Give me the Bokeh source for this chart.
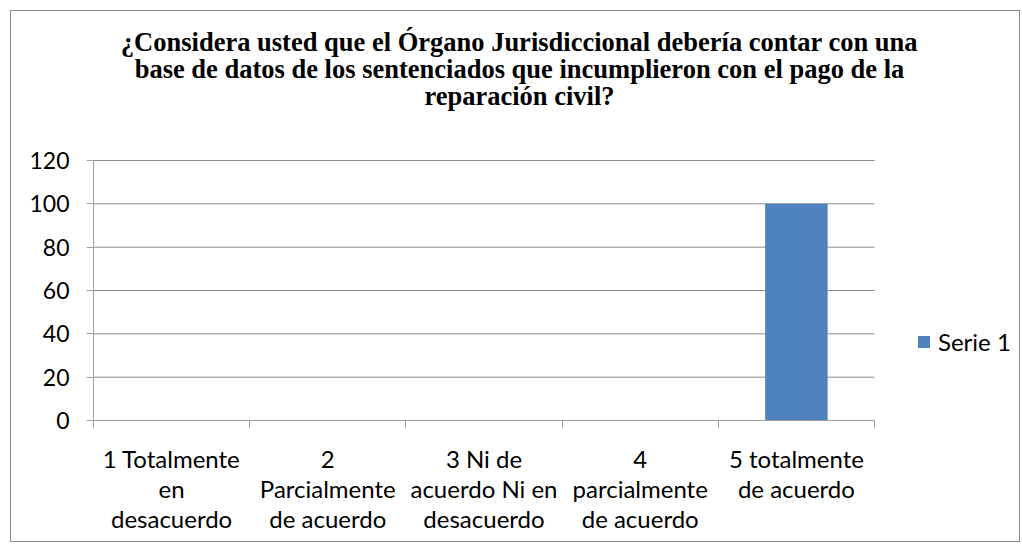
from bokeh.plotting import figure
from bokeh.models import (FixedTicker, Label, Legend, LegendItem, Range1d)
from bokeh.embed import file_html
from bokeh.resources import INLINE

# ---- data ----
categories = [
    "1 Totalmente\nen\ndesacuerdo",
    "2\nParcialmente\nde acuerdo",
    "3 Ni de\nacuerdo Ni en\ndesacuerdo",
    "4\nparcialmente\nde acuerdo",
    "5 totalmente\nde acuerdo",
]
values = [0, 0, 0, 0, 100]
series_name = "Serie 1"
y_ticks = [0, 20, 40, 60, 80, 100, 120]
title_lines = [
    "¿Considera usted que el Órgano Jurisdiccional debería contar con una",
    "base de datos de los sentenciados que incumplieron con el pago de la",
    "reparación civil?",
]

LABEL_FONT = "Lato"
GRID = "#8c8c8c"
AXIS = "#a0a0a0"
BAR = "#4f81bd"

n = len(categories)
centers = [i + 0.5 for i in range(n)]
bounds = list(range(n + 1))
y_max = y_ticks[-1]

# frame spans the title/legend area too; axes/grid are bounded to the data region
W, H = 1010, 532
LEFT, BOTTOM = 82, 123
px_x = 781 / n          # pixels per category
px_y = 260 / y_max      # pixels per unit
x_end = (W - LEFT) / px_x
y_end = (H - BOTTOM) / px_y

p = figure(width=W, height=H, output_backend="svg", toolbar_location=None,
           x_range=Range1d(0, x_end), y_range=Range1d(0, y_end),
           min_border_left=LEFT, min_border_right=0,
           min_border_top=0, min_border_bottom=BOTTOM)
p.margin = (10, 0, 0, 10)
p.styles = {"border": "1px solid #8c8c8c"}
p.outline_line_color = None
p.background_fill_color = "white"
p.border_fill_color = "white"
p.xgrid.visible = False
p.ygrid.visible = False

# horizontal gridlines across the category region
p.segment(x0=[0] * len(y_ticks), x1=[n] * len(y_ticks), y0=y_ticks, y1=y_ticks,
          line_color=GRID, line_width=1)

bars = p.vbar(x=centers, top=values, width=0.4, color=BAR, line_color=None)

# x axis
xa = p.xaxis[0]
xa.bounds = (0, n)
xa.ticker = FixedTicker(ticks=centers, minor_ticks=bounds)
xa.major_label_overrides = {c: lab for c, lab in zip(centers, categories)}
xa.major_tick_out = 0
xa.major_tick_in = 0
xa.minor_tick_out = 8
xa.minor_tick_in = 0
xa.minor_tick_line_color = AXIS
xa.axis_line_color = AXIS
xa.major_label_text_font = LABEL_FONT
xa.major_label_text_font_size = "24px"
xa.major_label_text_color = "black"
xa.major_label_text_line_height = 1.05
xa.major_label_standoff = 15

# y axis
ya = p.yaxis[0]
ya.bounds = (0, y_max)
ya.ticker = FixedTicker(ticks=y_ticks)
ya.major_tick_out = 7
ya.major_tick_in = 0
ya.minor_tick_line_color = None
ya.major_tick_line_color = AXIS
ya.axis_line_color = AXIS
ya.major_label_text_font = LABEL_FONT
ya.major_label_text_font_size = "23px"
ya.major_label_text_color = "black"
ya.major_label_standoff = 17

# title as three centered lines
title_y = [174.6, 162.3, 150.0]
for line, ty in zip(title_lines, title_y):
    p.add_layout(Label(x=2.727, y=ty, text=line, text_align="center",
                       text_baseline="alphabetic", text_font="Liberation Serif",
                       text_font_style="bold", text_font_size="26.5px",
                       text_color="black"))

legend = Legend(items=[LegendItem(label=series_name, renderers=[bars])],
                location=(823, 64), padding=0, margin=0, spacing=0,
                glyph_width=15, glyph_height=15, label_standoff=7,
                label_text_font=LABEL_FONT, label_text_font_size="24px",
                label_text_color="black",
                border_line_color=None, background_fill_alpha=0)
p.add_layout(legend, "center")

open("out.html", "w").write(file_html(p, INLINE))
